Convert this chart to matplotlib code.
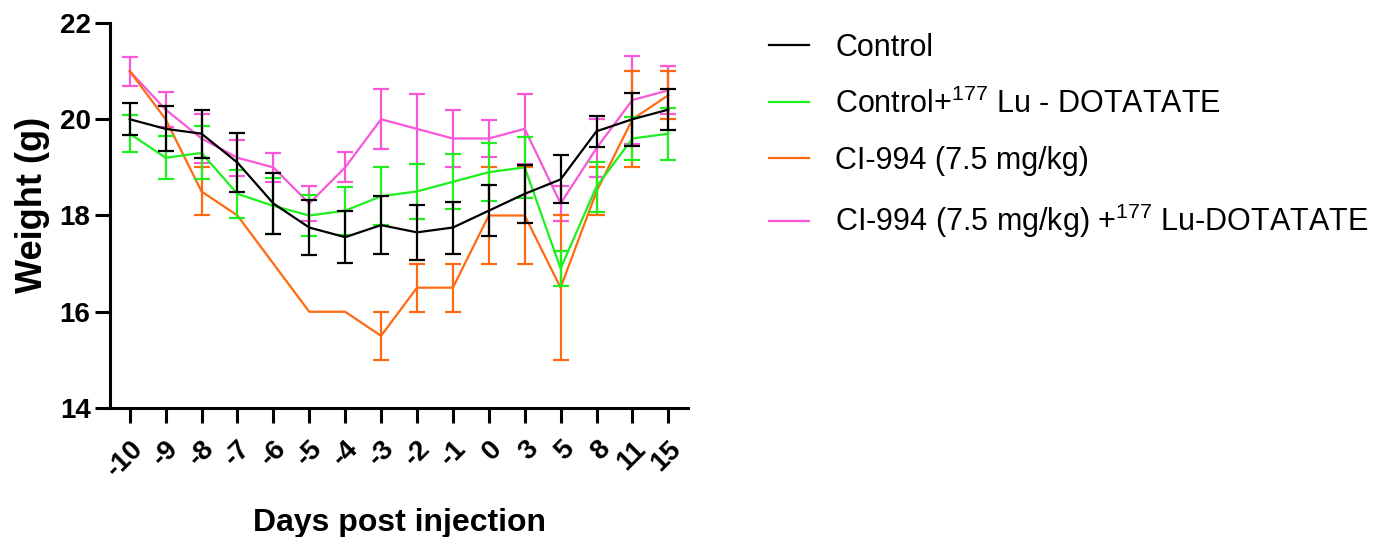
import matplotlib
matplotlib.use('Agg')
import matplotlib.pyplot as plt
import numpy as np

days = ['-10', '-9', '-8', '-7', '-6', '-5', '-4', '-3', '-2', '-1', '0', '3', '5', '8', '11', '15']

control = [20.0, 19.8, 19.7, 19.1, 18.25, 17.75, 17.55, 17.8, 17.65, 17.75, 18.1, 18.45, 18.75, 19.75, 20.0, 20.2]
control_err = [0.33, 0.47, 0.5, 0.62, 0.63, 0.58, 0.54, 0.6, 0.57, 0.54, 0.53, 0.6, 0.5, 0.32, 0.55, 0.42]

ctrl_lu = [19.7, 19.2, 19.3, 18.45, 18.2, 18.0, 18.1, 18.4, 18.5, 18.7, 18.9, 19.0, 16.9, 18.6, 19.6, 19.7]
ctrl_lu_err = [0.38, 0.45, 0.55, 0.5, 0.58, 0.42, 0.5, 0.6, 0.58, 0.57, 0.6, 0.63, 0.37, 0.52, 0.44, 0.54]

ci994 = [21.0, 20.0, 18.5, 18.0, 17.0, 16.0, 16.0, 15.5, 16.5, 16.5, 18.0, 18.0, 16.5, 18.5, 20.0, 20.5]
ci994_err = [0, 0, 0.5, 0, 0, 0, 0, 0.5, 0.5, 0.5, 1.0, 1.0, 1.5, 0.5, 1.0, 0.5]

ci994_lu = [21.0, 20.2, 19.6, 19.2, 19.0, 18.25, 19.0, 20.0, 19.8, 19.6, 19.6, 19.8, 18.25, 19.4, 20.4, 20.6]
ci994_lu_err = [0.3, 0.37, 0.5, 0.37, 0.3, 0.37, 0.31, 0.62, 0.73, 0.6, 0.39, 0.73, 0.37, 0.6, 0.92, 0.5]

labels = ['Control',
          'Control+$^{177}$ Lu - DOTATATE',
          'CI-994 (7.5 mg/kg)',
          'CI-994 (7.5 mg/kg) +$^{177}$ Lu-DOTATATE']
colors = ['black', '#1ef01e', '#ff6a10', '#f757d8']

plt.rcParams['font.family'] = ['Liberation Sans', 'DejaVu Sans']
plt.rcParams['mathtext.default'] = 'regular'

fig = plt.figure(figsize=(13.85, 5.37), dpi=100)
ax = fig.add_axes([0.0794, 0.2402, 0.4174, 0.717])

x = np.arange(len(days))
series = [(control, control_err), (ctrl_lu, ctrl_lu_err), (ci994, ci994_err), (ci994_lu, ci994_lu_err)]
zorders = [6, 5, 4, 3]
for (vals, errs), col, lab, z in zip(series, colors, labels, zorders):
    vals = np.array(vals)
    errs = np.array(errs)
    ax.plot(x, vals, color=col, lw=1.6, label=lab, zorder=z)
    # no bar where the SD is zero
    m = errs > 0
    ax.errorbar(x[m], vals[m], yerr=errs[m], fmt='none', ecolor=col,
                elinewidth=1.6, capsize=6, capthick=1.6, zorder=z)

ax.set_xlim(-0.55, 15.55)
ax.set_ylim(14, 22)
ax.set_yticks([14, 16, 18, 20, 22])
ax.set_xticks(x)
ax.set_xticklabels(days, rotation=45, ha='right', rotation_mode='anchor',
                   fontsize=20, fontweight='bold')
for t in ax.get_yticklabels():
    t.set_fontsize(20)
    t.set_fontweight('bold')

for s in ['top', 'right']:
    ax.spines[s].set_visible(False)
for s in ['left', 'bottom']:
    ax.spines[s].set_linewidth(2.2)
ax.tick_params(axis='both', width=2.2, length=11, direction='out')
ax.tick_params(axis='x', pad=9)
ax.tick_params(axis='y', pad=3)

ax.set_ylabel('Weight (g)', fontsize=26, fontweight='bold')
ax.yaxis.set_label_coords(-0.104, 0.527)
ax.set_xlabel('Days post injection', fontsize=23, fontweight='bold', labelpad=18)

fig.legend(loc='upper left', bbox_to_anchor=(0.5357, 0.99), frameon=False,
           fontsize=22, handlelength=1.3, handletextpad=0.85, labelspacing=0.85)

fig.savefig('out.png', dpi=100)
